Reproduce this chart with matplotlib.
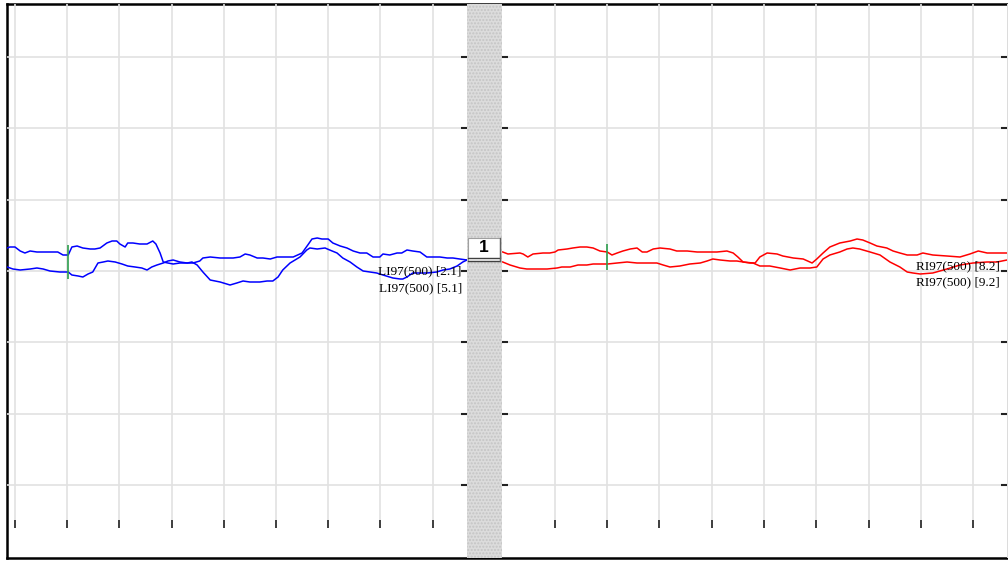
"""
Registro de dois canais (LI97 / RI97) lado a lado, com faixa separadora.
Tempo em segundos (1 divisao = 1 s), amplitude em uV (1 divisao = 50 uV).
"""

import numpy as np
import matplotlib.pyplot as plt
from matplotlib.patches import Rectangle

# ==============================================================================
#  DADOS
# ==============================================================================
# Painel esquerdo - LI97(500), traco que comeca em cima
t_li_a = [-0.15, -0.10, 0.00, 0.10, 0.19, 0.29, 0.42, 0.54, 0.67, 0.82, 0.92, 1.02,
          1.09, 1.19, 1.30, 1.44, 1.53, 1.63, 1.76, 1.86, 1.95, 2.01, 2.11, 2.16,
          2.26, 2.39, 2.53, 2.64, 2.70, 2.78, 2.84, 2.93, 3.03, 3.16, 3.30, 3.39,
          3.49, 3.60, 3.74, 3.93, 4.12, 4.25, 4.37, 4.50, 4.69, 4.83, 4.94, 5.04,
          5.13, 5.27, 5.46, 5.59, 5.65, 5.79, 5.94, 6.03, 6.17, 6.28, 6.42, 6.55,
          6.67, 6.80, 6.93, 7.05, 7.24, 7.38, 7.43, 7.51, 7.62, 7.76, 7.89, 8.08,
          8.20, 8.33, 8.47, 8.58, 8.66]
v_li_a = [16.1, 16.8, 16.8, 14.0, 12.6, 14.0, 13.3, 13.3, 13.3, 13.3, 11.2, 11.2,
          16.8, 17.5, 16.1, 15.4, 15.4, 16.1, 19.6, 21.0, 21.0, 18.9, 16.8, 19.6,
          19.6, 18.9, 18.9, 21.0, 18.9, 12.6, 6.3, 5.6, 4.9, 5.6, 5.6, 6.3,
          4.2, -0.7, -6.3, -7.7, -9.8, -8.4, -7.0, -7.7, -7.7, -7.0, -7.0, -4.2,
          0.7, 5.6, 9.8, 14.7, 16.1, 15.4, 16.1, 14.7, 12.6, 9.1, 6.3, 2.8,
          0.0, -0.7, -1.4, -2.8, -4.9, -5.6, -5.6, -4.2, -1.4, -1.4, -1.4, -0.7,
          0.7, 1.4, 3.5, 6.3, 7.7]

# Painel esquerdo - LI97(500), traco que comeca embaixo
t_li_b = [-0.15, -0.04, 0.10, 0.29, 0.42, 0.54, 0.67, 0.86, 1.02, 1.09, 1.21, 1.30,
          1.40, 1.49, 1.59, 1.69, 1.78, 1.92, 2.05, 2.16, 2.30, 2.43, 2.53, 2.62,
          2.72, 2.84, 2.93, 3.03, 3.16, 3.30, 3.41, 3.54, 3.60, 3.74, 3.93, 4.06,
          4.18, 4.31, 4.41, 4.50, 4.64, 4.75, 4.89, 5.02, 5.13, 5.33, 5.50, 5.61,
          5.69, 5.79, 5.88, 6.00, 6.09, 6.23, 6.36, 6.48, 6.61, 6.74, 6.86, 6.99,
          7.05, 7.18, 7.32, 7.41, 7.51, 7.62, 7.76, 7.89, 8.01, 8.14, 8.28, 8.39,
          8.52, 8.66]
v_li_b = [2.8, 1.4, 0.7, 1.4, 2.1, 1.4, 0.0, -0.7, -0.7, -2.8, -3.5, -4.2,
          -2.1, -0.7, 5.6, 6.3, 7.0, 6.3, 4.9, 3.5, 2.8, 2.1, 0.7, 2.8,
          4.2, 5.6, 7.0, 7.7, 6.3, 5.6, 5.6, 7.0, 9.1, 9.8, 9.1, 9.1,
          9.1, 9.8, 11.9, 11.2, 9.1, 9.1, 8.4, 9.8, 9.8, 9.8, 12.6, 18.2,
          22.4, 23.1, 22.4, 22.4, 19.6, 17.5, 16.1, 14.0, 12.6, 12.6, 9.8, 9.8,
          11.9, 11.2, 12.6, 12.6, 14.7, 14.0, 13.3, 9.8, 9.8, 9.8, 9.1, 9.1,
          8.4, 7.7]

# Painel direito - RI97(500), traco de cima
t_ri_a = [0.00, 0.10, 0.33, 0.39, 0.48, 0.58, 0.77, 0.90, 1.00, 1.06, 1.23, 1.34,
          1.48, 1.61, 1.73, 1.86, 2.00, 2.09, 2.19, 2.30, 2.44, 2.57, 2.67, 2.76,
          2.88, 3.01, 3.20, 3.33, 3.53, 3.72, 3.91, 4.10, 4.29, 4.41, 4.50, 4.60,
          4.73, 4.83, 4.92, 5.06, 5.25, 5.36, 5.56, 5.75, 5.92, 6.01, 6.13, 6.26,
          6.45, 6.65, 6.78, 6.89, 7.03, 7.16, 7.35, 7.47, 7.60, 7.74, 7.93, 8.04,
          8.23, 8.50, 8.75, 8.94, 9.10, 9.27, 9.46, 9.65]
v_ri_a = [13.3, 11.9, 12.6, 11.9, 9.8, 11.9, 12.6, 12.6, 13.3, 14.7, 15.4, 16.1,
          16.8, 16.8, 16.1, 14.0, 13.3, 11.2, 12.6, 14.0, 15.4, 16.1, 13.3, 13.3,
          15.4, 16.1, 15.4, 14.0, 14.0, 13.3, 13.3, 13.3, 14.0, 12.6, 9.8, 6.3,
          5.6, 5.6, 9.8, 12.6, 11.9, 10.5, 9.1, 8.4, 5.6, 8.4, 12.6, 16.8,
          19.6, 21.0, 22.4, 21.7, 19.6, 17.5, 16.1, 14.0, 12.6, 11.2, 11.2, 12.6,
          11.2, 10.5, 9.8, 11.9, 14.0, 12.6, 12.6, 12.6]

# Painel direito - RI97(500), traco de baixo
t_ri_b = [0.00, 0.14, 0.33, 0.46, 0.66, 0.85, 1.04, 1.13, 1.29, 1.44, 1.61, 1.73,
          1.86, 2.01, 2.19, 2.38, 2.57, 2.76, 2.95, 3.07, 3.20, 3.39, 3.58, 3.78,
          3.91, 4.02, 4.16, 4.35, 4.48, 4.60, 4.79, 4.92, 5.11, 5.31, 5.50, 5.69,
          5.88, 6.01, 6.13, 6.26, 6.45, 6.59, 6.70, 6.83, 7.03, 7.22, 7.41, 7.60,
          7.74, 7.85, 7.99, 8.23, 8.50, 8.75, 9.00, 9.27, 9.46, 9.65]
v_ri_b = [6.3, 4.2, 2.1, 1.4, 1.4, 1.4, 2.1, 2.8, 2.8, 4.2, 4.2, 4.9,
          4.9, 4.9, 5.6, 6.3, 5.6, 5.6, 5.6, 4.2, 2.8, 3.5, 4.9, 5.6,
          7.0, 8.4, 7.7, 7.0, 7.0, 6.3, 5.6, 3.5, 3.5, 2.1, 0.7, 2.1,
          2.1, 2.8, 8.4, 11.2, 13.3, 15.4, 16.1, 15.4, 13.3, 11.2, 6.3, 2.8,
          -0.7, -1.4, -2.1, -1.4, 1.4, 4.2, 5.6, 6.3, 6.3, 7.7]

# marcas de evento (verde): instante e extensao vertical em uV
evento_li = (1.02, -5.6, 18.2)
evento_ri = (2.00, 0.7, 18.9)

rotulos_li = ["LI97(500) [2.1]", "LI97(500) [5.1]"]
rotulos_ri = ["RI97(500) [8.2]", "RI97(500) [9.2]"]

grade_li = np.arange(0, 9)      # divisoes de 1 s
grade_ri = np.arange(1, 10)
grade_uv = np.arange(-150, 151, 50)

# ==============================================================================
#  FIGURA
# ==============================================================================
LARG, ALT = 1008, 561


def caixa(x0, y0, x1, y1):
    """Converte uma caixa em pixels (origem no topo) para fracao da figura."""
    return [x0 / LARG, (ALT - y1) / ALT, (x1 - x0) / LARG, (y1 - y0) / ALT]


fig = plt.figure(figsize=(LARG / 100, ALT / 100), dpi=100)

# moldura geral + faixas separadoras
moldura = fig.add_axes(caixa(7, 4, 1008, 558))
moldura.set_xlim(0, 1)
moldura.set_ylim(0, 1)
moldura.set_xticks([])
moldura.set_yticks([])
for lado in ['left', 'top', 'bottom']:
    moldura.spines[lado].set_linewidth(1.8)
    moldura.spines[lado].set_color('black')
moldura.spines['right'].set_visible(False)
moldura.add_patch(Rectangle((0.4595, 0), 0.035, 1, facecolor='#dcdcdc',
                            edgecolor='#c4c4c4', hatch='.....', lw=0, zorder=3))
moldura.add_patch(Rectangle((0.9995, 0), 0.01, 1, facecolor='#dcdcdc', lw=0, zorder=3))

# botao "1" sobre a faixa
moldura.add_patch(Rectangle((0.4605, 0.536), 0.032, 0.042, facecolor='white',
                            edgecolor='#a0a0a0', lw=0.8, zorder=4))
moldura.plot([0.4605, 0.4925], [0.5415, 0.5415], color='#404040', lw=1.0, zorder=5)
moldura.plot([0.4605, 0.4925], [0.536, 0.536], color='#404040', lw=1.0, zorder=5)
moldura.plot([0.4925, 0.4925], [0.536, 0.578], color='#606060', lw=1.0, zorder=5)
moldura.text(0.4765, 0.561, "1", ha='center', va='center', fontsize=12.5,
             fontweight='bold', family='Liberation Sans', zorder=6)

ylim = (-179.9, 186.9)


def montar_painel(pos, xlim, grade_t, ticks_y_esq, ticks_y_dir):
    ax = fig.add_axes(pos)
    ax.set_facecolor('none')
    ax.set_xlim(*xlim)
    ax.set_ylim(*ylim)
    for lado in ax.spines.values():
        lado.set_visible(False)
    ax.vlines(grade_t, ylim[0], ylim[1], color='#e2e2e2', lw=1.2, zorder=0)
    ax.hlines(grade_uv, xlim[0], xlim[1], color='#e2e2e2', lw=1.2, zorder=0)
    ax.set_xticks(grade_t)
    ax.set_yticks(grade_uv)
    ax.tick_params(axis='x', direction='in', length=5.8, width=1.2, color='#222222',
                   labelbottom=False, bottom=True)
    ax.tick_params(axis='y', direction='in', length=4.3, width=1.5, color='#222222',
                   left=ticks_y_esq, right=ticks_y_dir,
                   labelleft=False, labelright=False)
    return ax


ax_li = montar_painel(caixa(7, 4, 467, 528), (-0.153, 8.66), grade_li, False, True)
ax_ri = montar_painel(caixa(502, 4, 1007, 528), (-0.014, 9.65), grade_ri, True, True)

ax_li.plot(t_li_a, v_li_a, color='#0000ff', lw=1.1, zorder=3)
ax_li.plot(t_li_b, v_li_b, color='#0000ff', lw=1.1, zorder=3)
ax_ri.plot(t_ri_a, v_ri_a, color='#ff0000', lw=1.1, zorder=3)
ax_ri.plot(t_ri_b, v_ri_b, color='#ff0000', lw=1.1, zorder=3)

for ax, (t_ev, v0, v1) in [(ax_li, evento_li), (ax_ri, evento_ri)]:
    ax.vlines(t_ev, v0, v1, color='#2e9e4e', lw=1.2, zorder=4)

fonte_rotulo = dict(family='Liberation Serif', fontsize=9.5, ha='right', va='center', zorder=5)
ax_li.text(8.56, 0.0, rotulos_li[0], **fonte_rotulo)
ax_li.text(8.56, -11.9, rotulos_li[1], **fonte_rotulo)
ax_ri.text(9.52, 3.5, rotulos_ri[0], **fonte_rotulo)
ax_ri.text(9.52, -7.7, rotulos_ri[1], **fonte_rotulo)

fig.savefig('out.png', dpi=100)
plt.close(fig)
